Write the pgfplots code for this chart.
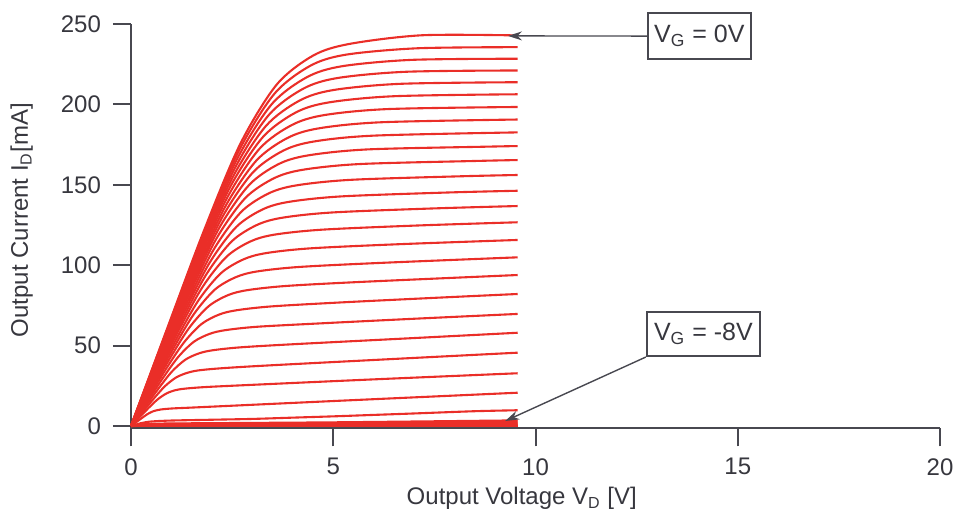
\documentclass[border=0pt]{standalone}
\usepackage{fontspec}
\setmainfont{Liberation Sans}
\usepackage{pgfplots}
\pgfplotsset{compat=1.18}
\usetikzlibrary{arrows.meta}

\definecolor{axisgray}{RGB}{72,72,80}
\definecolor{textgray}{RGB}{55,55,62}
\definecolor{ivred}{RGB}{234,46,40}

\begin{document}
\begin{tikzpicture}
\begin{axis}[
  scale only axis,
  width=404.5pt, height=202.2pt,
  xmin=0, xmax=20, ymin=-1.5, ymax=250,
  axis x line*=bottom, axis y line*=left,
  xtick pos=left, ytick pos=left,
  xtick={0,5,10,15,20}, ytick={0,50,100,150,200,250},
  tick align=outside, major tick length=9pt,
  axis line style={line width=1pt, color=axisgray},
  tick style={line width=1pt, color=axisgray},
  /pgf/number format/assume math mode=true,
  tick label style={font=\fontsize{12}{14}\selectfont, color=textgray},
  yticklabel style={xshift=-2.5pt},
  xticklabel style={yshift=-2.5pt},
  label style={font=\fontsize{12}{14}\selectfont, color=textgray},
  xlabel={Output Voltage V\textsubscript{D} [V]},
  ylabel={Output Current I\textsubscript{D}[mA]},
  xlabel style={at={(axis description cs:0.483,-0.189)}, anchor=base},
  ylabel style={at={(axis description cs:-0.135,0.515)}, anchor=center},
  clip=false,
  iv/.style={ivred, line width=1.05pt, smooth, no marks},
]
% V_G = 0 V down to -8 V
\addplot[iv] coordinates {(0,0)(0.900,61.0)(1.799,121.2)(2.699,175.3)(3.598,212.2)(4.498,230.3)(5.397,237.6)(7.196,243.0)(9.56,242.9)};
\addplot[iv] coordinates {(0,0)(0.885,59.4)(1.769,118.0)(2.654,170.5)(3.538,206.4)(4.423,223.9)(5.307,230.9)(7.076,234.9)(9.56,235.6)};
\addplot[iv] coordinates {(0,0)(0.868,57.5)(1.736,114.2)(2.603,165.1)(3.471,199.9)(4.339,216.8)(5.207,223.7)(6.942,227.7)(9.56,228.4)};
\addplot[iv] coordinates {(0,0)(0.851,55.6)(1.701,110.4)(2.552,159.6)(3.402,193.3)(4.253,209.7)(5.103,216.4)(6.804,220.3)(9.56,221.1)};
\addplot[iv] coordinates {(0,0)(0.832,53.5)(1.665,106.4)(2.497,153.9)(3.329,186.4)(4.161,202.3)(4.994,208.9)(6.658,212.8)(9.56,213.8)};
\addplot[iv] coordinates {(0,0)(0.814,51.5)(1.627,102.4)(2.441,148.2)(3.254,179.5)(4.068,194.9)(4.881,201.2)(6.508,205.1)(9.56,206.3)};
\addplot[iv] coordinates {(0,0)(0.794,49.4)(1.588,98.3)(2.382,142.2)(3.176,172.4)(3.970,187.1)(4.764,193.3)(6.352,197.1)(9.56,198.4)};
\addplot[iv] coordinates {(0,0)(0.773,47.2)(1.547,94.0)(2.320,136.0)(3.093,164.9)(3.866,179.1)(4.640,185.1)(6.186,188.9)(9.56,190.6)};
\addplot[iv] coordinates {(0,0)(0.752,45.1)(1.505,89.7)(2.257,129.9)(3.009,157.6)(3.761,171.2)(4.514,176.9)(6.018,180.6)(9.56,182.6)};
\addplot[iv] coordinates {(0,0)(0.730,42.9)(1.460,85.3)(2.190,123.6)(2.920,149.9)(3.650,162.9)(4.380,168.3)(5.840,172.0)(8.760,173.7)(9.56,174.1)};
\addplot[iv] coordinates {(0,0)(0.706,40.5)(1.412,80.6)(2.117,116.8)(2.823,141.7)(3.529,154.0)(4.235,159.3)(5.646,162.9)(8.469,164.8)(9.56,165.4)};
\addplot[iv] coordinates {(0,0)(0.680,37.9)(1.359,75.5)(2.039,109.5)(2.718,133.0)(3.398,144.6)(4.077,149.6)(5.436,153.1)(8.154,155.3)(9.56,156.1)};
\addplot[iv] coordinates {(0,0)(0.651,35.3)(1.302,70.3)(1.952,101.9)(2.603,123.8)(3.254,134.7)(3.905,139.4)(5.206,142.8)(7.809,145.2)(9.56,146.3)};
\addplot[iv] coordinates {(0,0)(0.622,32.7)(1.245,65.1)(1.867,94.5)(2.489,114.8)(3.111,125.0)(3.734,129.5)(4.978,132.8)(7.467,135.3)(9.56,136.8)};
\addplot[iv] coordinates {(0,0)(0.591,29.9)(1.182,59.7)(1.772,86.6)(2.363,105.3)(2.954,114.8)(3.545,119.0)(4.726,122.1)(7.089,124.7)(9.56,126.7)};
\addplot[iv] coordinates {(0,0)(0.556,26.9)(1.111,53.7)(1.667,78.1)(2.222,95.0)(2.778,103.6)(3.333,107.5)(4.444,110.5)(6.666,113.1)(9.56,115.7)};
\addplot[iv] coordinates {(0,0)(0.519,24.0)(1.038,47.9)(1.557,69.7)(2.076,84.9)(2.595,92.6)(3.114,96.1)(4.152,98.9)(6.228,101.5)(9.56,104.9)};
\addplot[iv] coordinates {(0,0)(0.480,21.0)(0.960,42.0)(1.440,61.1)(1.920,74.5)(2.400,81.4)(2.880,84.5)(3.840,87.1)(5.760,89.7)(9.56,93.9)};
\addplot[iv] coordinates {(0,0)(0.436,17.8)(0.871,35.7)(1.307,51.9)(1.742,63.4)(2.178,69.3)(2.613,72.0)(3.484,74.4)(5.226,76.9)(7.5,79.7)(9.56,82.1)};
\addplot[iv] coordinates {(0,0)(0.389,14.7)(0.777,29.4)(1.166,42.9)(1.554,52.4)(1.943,57.3)(2.331,59.6)(3.108,61.7)(4.662,63.8)(7,66.7)(9.56,69.7)};
\addplot[iv] coordinates {(0,0)(0.337,11.5)(0.674,23.1)(1.010,33.8)(1.347,41.3)(1.684,45.2)(2.021,47.1)(2.694,48.9)(4.041,50.9)(7,54.7)(9.56,58.0)};
\addplot[iv] coordinates {(0,0)(0.279,8.4)(0.558,16.9)(0.837,24.7)(1.116,30.2)(1.395,33.1)(1.674,34.6)(2.232,35.9)(3.348,37.6)(6.5,41.7)(9.56,45.6)};
\addplot[iv] coordinates {(0,0)(0.220,5.7)(0.441,11.4)(0.661,16.6)(0.881,20.3)(1.101,22.3)(1.322,23.2)(1.762,24.1)(2.643,25.2)(6,29.0)(9.56,32.8)};
\addplot[iv] coordinates {(0,0)(0.136,2.5)(0.271,5.0)(0.407,7.4)(0.542,9.1)(0.678,10.0)(0.813,10.5)(1.084,11.0)(1.626,11.6)(5.5,16.1)(9.56,20.7)};
\addplot[iv] coordinates {(0,0)(0.25,1.8)(0.5,2.8)(1,3.4)(2,3.9)(3,4.4)(4,5.2)(5,6.0)(6,6.9)(7,7.8)(8.5,9.2)(9.56,9.8)};
% curves close to pinch-off
\addplot[iv] coordinates {(0,0)(0.3,1.05)(1,1.58)(5,2.28)(9.56,3.5)};
\addplot[iv] coordinates {(0,0)(0.3,0.84)(1,1.26)(5,1.82)(9.56,2.8)};
\addplot[iv] coordinates {(0,0)(0.3,0.63)(1,0.95)(5,1.37)(9.56,2.1)};
\addplot[iv] coordinates {(0,0)(0.3,0.45)(1,0.68)(5,0.98)(9.56,1.5)};
\addplot[iv] coordinates {(0,0)(0.3,0.30)(1,0.45)(5,0.65)(9.56,1.0)};
\addplot[iv] coordinates {(0,0)(0.3,0.15)(1,0.23)(5,0.33)(9.56,0.5)};
\addplot[iv] coordinates {(0,0)(0.3,0.06)(1,0.09)(5,0.13)(9.56,0.2)};
\addplot[iv] coordinates {(0,0)(9.56,0)};

% gate-voltage call-outs
\node[draw=axisgray, line width=1pt, text=textgray, font=\fontsize{12.5}{14}\selectfont,
      minimum width=51.5pt, minimum height=23pt, inner sep=2pt]
  (vg0) at (axis cs:14.05,242.5) {V\textsubscript{G} = 0V};
\node[draw=axisgray, line width=1pt, text=textgray, font=\fontsize{12.5}{14}\selectfont,
      minimum width=56.5pt, minimum height=22pt, inner sep=2pt]
  (vg8) at (axis cs:14.15,57.2) {V\textsubscript{G} = -8V};
\draw[axisgray, line width=0.7pt, -{Stealth[length=7pt,width=4.5pt]}]
  (vg0.west) -- (axis cs:9.32,242.6);
\draw[axisgray, line width=0.7pt, -{Stealth[length=7pt,width=4.5pt]}]
  (vg8.south west) -- (axis cs:9.25,3.1);
\end{axis}
\pgfresetboundingbox
\path[use as bounding box] (-65.5pt,-43.8pt) rectangle (412.5pt,214.2pt);
\end{tikzpicture}
\end{document}
